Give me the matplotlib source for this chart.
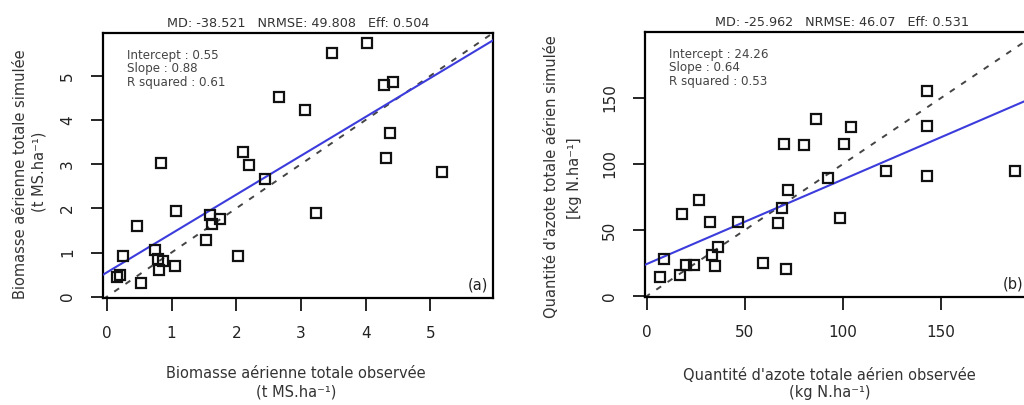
"""Simulated vs observed scatter plots: aboveground biomass (a) and
aboveground nitrogen (b), each with its 1:1 line and fitted regression."""

from __future__ import annotations

import matplotlib

matplotlib.use("Agg")
import matplotlib.pyplot as plt

# (a) biomass, t MS/ha
bio_obs = [4.02, 3.48, 4.29, 4.43, 2.66, 3.06, 4.38, 4.32, 5.18, 0.84, 2.11,
           2.19, 2.44, 1.07, 0.46, 1.60, 1.63, 1.75, 1.53, 2.02, 3.24, 0.25,
           0.75, 0.79, 0.87, 0.81, 1.05, 0.20, 0.15, 0.52]
bio_sim = [5.75, 5.52, 4.80, 4.86, 4.53, 4.23, 3.71, 3.14, 2.83, 3.03, 3.28,
           2.99, 2.66, 1.95, 1.61, 1.86, 1.65, 1.76, 1.29, 0.93, 1.90, 0.91,
           1.06, 0.85, 0.80, 0.61, 0.69, 0.50, 0.44, 0.32]
bio_fit = {"intercept": 0.55, "slope": 0.88, "r2": 0.61}
bio_scores = {"MD": "-38.521", "NRMSE": "49.808", "Eff": "0.504"}

# (b) aboveground nitrogen, kg N/ha
n_obs = [143, 143, 86, 104, 70, 80, 100.5, 122, 143, 188, 92.5, 72, 98.5,
         69, 67, 46.5, 32, 26.5, 18, 36, 33, 34.7, 20, 24, 17, 6.6, 8.7, 59,
         71]
n_sim = [155, 129, 134, 128, 115, 114, 115, 95, 91, 95, 89, 80, 59, 67, 55,
         56, 56, 73, 62, 37, 31, 23, 23.5, 23.5, 16, 14, 28, 25, 20.5]
n_fit = {"intercept": 24.26, "slope": 0.64, "r2": 0.53}
n_scores = {"MD": "-25.962", "NRMSE": "46.07", "Eff": "0.531"}

FIG_W, FIG_H = 1024, 405
FONT = "DejaVu Sans"
REG_COLOR = "#3c3cdc"


def _px(x: float, y: float) -> tuple[float, float]:
    return x / FIG_W, 1 - y / FIG_H


def _panel(ax, obs, sim, fit, scores, xlim, ylim, ticks, tag, tag_x):
    ax.set_xlim(*xlim)
    ax.set_ylim(*ylim)

    lo, hi = min(xlim[0], ylim[0]), max(xlim[1], ylim[1]) * 1.1
    ax.plot([lo, hi], [lo, hi], color="#444444", lw=1.4,
            dashes=(3, 4), zorder=2)
    ax.plot(xlim, [fit["intercept"] + fit["slope"] * x for x in xlim],
            color=REG_COLOR, lw=1.5, zorder=3)
    ax.plot(obs, sim, ls="none", marker="s", ms=6.5, mfc="none",
            mec="#111111", mew=1.6, zorder=4)

    ax.set_xticks(ticks)
    ax.set_yticks(ticks)
    ax.tick_params(direction="out", length=9, width=1.2, pad=11,
                   labelsize=11, labelcolor="#222222")
    for lab in ax.get_yticklabels():
        lab.set_rotation(90)
        lab.set_va("center")
    for s in ax.spines.values():
        s.set_linewidth(1.6)

    ax.set_title(f"MD: {scores['MD']}   NRMSE: {scores['NRMSE']}   "
                 f"Eff: {scores['Eff']}", fontsize=9.2, color="#333333", pad=4)
    ax.text(0.062, 0.94,
            f"Intercept : {fit['intercept']:.2f}\nSlope : {fit['slope']:.2f}\n"
            f"R squared : {fit['r2']:.2f}",
            transform=ax.transAxes, ha="left", va="top", fontsize=8.6,
            color="#444444", linespacing=1.05)
    ax.text(tag_x, 0.05, tag, transform=ax.transAxes, ha="center",
            va="center", fontsize=10.5, color="#222222")


plt.rcParams["font.family"] = [FONT]
fig = plt.figure(figsize=(FIG_W / 100, FIG_H / 100), dpi=100)

ax_a = fig.add_axes([103 / FIG_W, 1 - 298 / FIG_H, 390 / FIG_W, 265 / FIG_H])
_panel(ax_a, bio_obs, bio_sim, bio_fit, bio_scores,
       (-0.06, 5.97), (-0.03, 5.97), [0, 1, 2, 3, 4, 5], "(a)", 0.962)

ax_b = fig.add_axes([645 / FIG_W, 1 - 297 / FIG_H, 394 / FIG_W, 265 / FIG_H])
_panel(ax_b, n_obs, n_sim, n_fit, n_scores,
       (-1, 200), (-0.8, 200), [0, 50, 100, 150], "(b)", 0.935)

label_kw = dict(fontsize=10.5, color="#333333", ha="center", va="center")
fig.text(*_px(296, 374), "Biomasse aérienne totale observée", **label_kw)
fig.text(*_px(296, 392), "(t MS.ha⁻¹)", **label_kw)
fig.text(*_px(21, 174), "Biomasse aérienne totale simulée",
         rotation=90, **label_kw)
fig.text(*_px(39, 172), "(t MS.ha⁻¹)", rotation=90, **label_kw)

fig.text(*_px(829, 375), "Quantité d'azote totale aérien observée",
         **label_kw)
fig.text(*_px(830, 392), "(kg N.ha⁻¹)", **label_kw)
fig.text(*_px(552, 177), "Quantité d'azote totale aérien simulée",
         rotation=90, **label_kw)
fig.text(*_px(574, 178), "[kg N.ha⁻¹]", rotation=90, **label_kw)

fig.savefig("out.png", dpi=100)
plt.close(fig)
